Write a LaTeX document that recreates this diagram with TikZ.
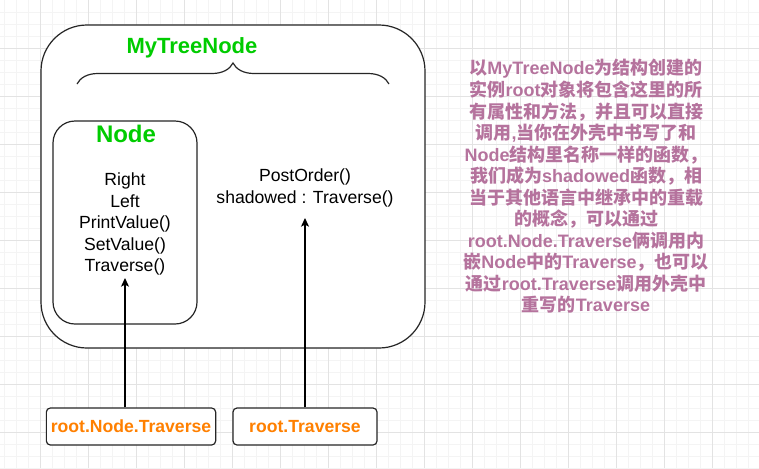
\documentclass[tikz,border=0pt]{standalone}
\usepackage{fontspec}
\setmainfont{Liberation Sans}
\newfontfamily\cjk{Noto Sans CJK SC}
\usepackage{tikz}
\usetikzlibrary{arrows.meta,decorations.pathreplacing}
\definecolor{grn}{HTML}{00CC00}
\definecolor{org}{HTML}{FF8000}
\definecolor{mauve}{HTML}{B5739D}
\definecolor{gmaj}{HTML}{E3E3E3}
\definecolor{gmin}{HTML}{F4F4F4}
\newcommand{\lt}[1]{{\rmfamily\bfseries #1}}

\begin{document}
\begin{tikzpicture}[x=0.75pt,y=-0.75pt,
  box/.style={draw=black!85,line width=0.9pt},
  ttl/.style={text=grn},
  txt/.style={align=center,font=\fontsize{13.2}{16.1}\selectfont},
  call/.style={box,fill=white,rounded corners=3pt,minimum height=27.75pt,text=org,
    font=\fontsize{13.2}{16}\selectfont\bfseries}]
  \useasboundingbox (0,0) rectangle (759,468);
  % grid
  \foreach \x in {4.3,16.3,...,759} \draw[gmin,line width=0.75pt] (\x,0) -- (\x,468);
  \foreach \y in {12,24,...,468} \draw[gmin,line width=0.75pt] (0,\y) -- (759,\y);
  \foreach \x in {40.3,88.3,...,759} \draw[gmaj,line width=0.75pt] (\x,0) -- (\x,468);
  \foreach \y in {48,96,...,468} \draw[gmaj,line width=0.75pt] (0,\y) -- (759,\y);

  \node[box,fill=white,rounded corners=34.5pt,minimum width=288pt,minimum height=242.25pt] (outer) at (233,186.5) {};
  \node[box,rounded corners=16.5pt,minimum width=108pt,minimum height=152.25pt] (inner) at (125,222.5) {};
  \node[ttl,font=\fontsize{16.5}{20}\selectfont\bfseries] (mtn) at (192,48) {MyTreeNode};
  \draw[box,decorate,decoration={brace,amplitude=15.75pt}] (77,84) -- (389,84);
  \node[ttl,font=\fontsize{18}{22}\selectfont\bfseries] (nd) at (126,134) {Node};
  \node[txt] (lst) at (125,224) {Right\\Left\\PrintValue()\\SetValue()\\Traverse()};
  \node[txt] (pst) at (305,188) {PostOrder()\\shadowed : Traverse()};

  \node[align=center,text=mauve,font=\cjk\bfseries\fontsize{13.5}{16.15}\selectfont] (note) at (586,186.5)
    {以\lt{MyTreeNode}为结构创建的\\
     实例\lt{root}对象将包含这里的所\\
     有属性和方法，并且可以直接\\
     调用\lt{,}当你在外壳中书写了和\\
     \lt{Node}结构里名称一样的函数，\\
     我们成为\lt{shadowed}函数，相\\
     当于其他语言中继承中的重载\\
     的概念，可以通过\\
     \lt{root.Node.Traverse}俩调用内\\
     嵌\lt{Node}中的\lt{Traverse}，也可以\\
     通过\lt{root.Traverse}调用外壳中\\
     重写的\lt{Traverse}};

  \node[call,minimum width=126pt] (rnt) at (131,426.5) {root.Node.Traverse};
  \node[call,minimum width=108pt] (rt) at (305,426.5) {root.Traverse};

  \coordinate (ta) at (125,278);
  \coordinate (tb) at (305,218);
  \path[-{Stealth[length=6.5pt,width=6pt,inset=1.5pt]},line width=0.9pt]
  (rnt.north -| ta) edge (ta)
  (rt.north) edge (tb);
\end{tikzpicture}
\end{document}
